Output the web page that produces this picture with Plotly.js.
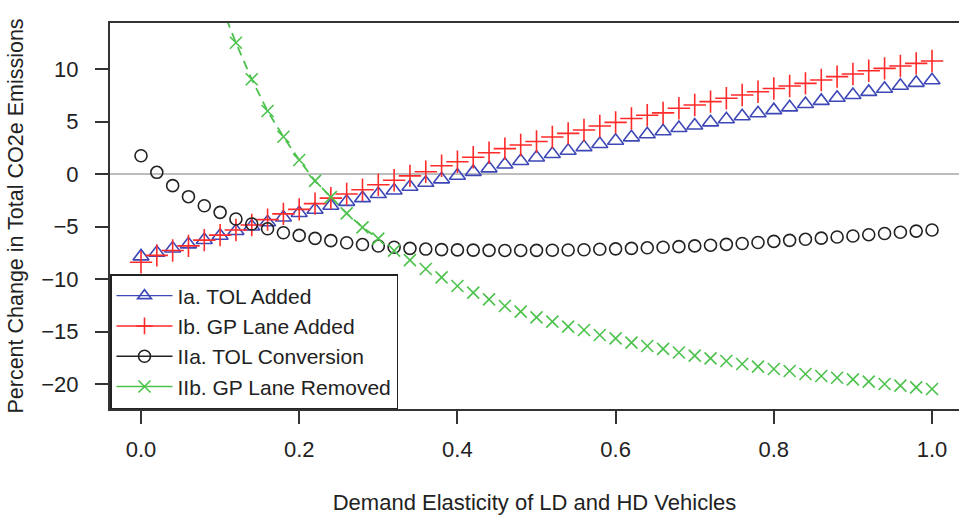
<!DOCTYPE html>
<html>
<head>
<meta charset="utf-8">
<script src="https://cdn.plot.ly/plotly-3.0.1.min.js"></script>
<style>html,body{margin:0;padding:0;background:#fff;}#chart{width:959px;height:515px;}</style>
</head>
<body>
<div id="chart"></div>
<script>
const elasticity = [0.00,0.02,0.04,0.06,0.08,0.10,0.12,0.14,0.16,0.18,0.20,0.22,0.24,0.26,0.28,0.30,0.32,0.34,0.36,0.38,0.40,0.42,0.44,0.46,0.48,0.50,0.52,0.54,0.56,0.58,0.60,0.62,0.64,0.66,0.68,0.70,0.72,0.74,0.76,0.78,0.80,0.82,0.84,0.86,0.88,0.90,0.92,0.94,0.96,0.98,1.00];

const tolAdded = [-7.85,-7.5,-7.1,-6.7,-6.29,-5.88,-5.43,-5.0,-4.6,-4.15,-3.72,-3.4,-3.03,-2.65,-2.3,-1.9,-1.57,-1.21,-0.83,-0.51,-0.16,0.2,0.54,0.9,1.24,1.57,1.9,2.22,2.56,2.86,3.17,3.49,3.78,4.07,4.38,4.62,4.92,5.21,5.5,5.78,6.08,6.35,6.67,6.96,7.26,7.52,7.82,8.12,8.41,8.68,8.93];

const gpLaneAdded = [-8.4,-7.75,-7.28,-6.85,-6.3,-5.82,-5.33,-4.86,-4.35,-3.8,-3.37,-2.82,-2.3,-1.9,-1.5,-1.02,-0.6,-0.18,0.22,0.79,1.17,1.6,2.03,2.42,2.76,3.1,3.52,3.87,4.19,4.57,4.92,5.28,5.6,5.82,6.26,6.57,6.89,7.21,7.52,7.84,8.14,8.38,8.63,8.95,9.27,9.52,9.84,10.06,10.29,10.54,10.76];

const tolConversion = [1.74,0.16,-1.11,-2.16,-3.02,-3.65,-4.29,-4.76,-5.22,-5.6,-5.85,-6.13,-6.35,-6.55,-6.72,-6.86,-6.98,-7.08,-7.15,-7.2,-7.23,-7.25,-7.27,-7.28,-7.28,-7.27,-7.26,-7.24,-7.21,-7.17,-7.13,-7.08,-7.03,-6.98,-6.92,-6.85,-6.78,-6.7,-6.62,-6.52,-6.42,-6.32,-6.22,-6.11,-6.0,-5.9,-5.78,-5.67,-5.55,-5.44,-5.33];

const gpLaneRemoved = [48,40,33,26.5,21,16.3,12.5,9.02,6.0,3.55,1.33,-0.65,-2.2,-3.75,-5.08,-6.16,-7.3,-8.2,-9.05,-9.85,-10.67,-11.3,-11.94,-12.57,-13.11,-13.65,-14.06,-14.54,-14.86,-15.33,-15.65,-16.06,-16.38,-16.65,-17.0,-17.3,-17.56,-17.81,-18.1,-18.35,-18.57,-18.76,-19.05,-19.24,-19.4,-19.56,-19.78,-20.0,-20.16,-20.32,-20.48];

const seriesNames = ['Ia. TOL Added','Ib. GP Lane Added','IIa. TOL Conversion','IIb. GP Lane Removed'];
const xTickVals = [0.0,0.2,0.4,0.6,0.8,1.0];
const xTickText = ['0.0','0.2','0.4','0.6','0.8','1.0'];
const yTickVals = [-20,-15,-10,-5,0,5,10];

const colBlue = '#3d47b5', colRed = '#ff2a2a', colBlack = '#222222', colGreen = '#4cc24c';

const styles = [
  {color: colBlue, symbol: 'triangle-up-open', size: 14, values: tolAdded},
  {color: colRed, symbol: 'cross-thin-open', size: 16, values: gpLaneAdded},
  {color: colBlack, symbol: 'circle-open', size: 12, values: tolConversion},
  {color: colGreen, symbol: 'x-thin-open', size: 12, values: gpLaneRemoved}
];

const traces = [];
// green dashed connecting line (type "b" style) for the steep part
traces.push({
  x: elasticity.slice(0,16), y: gpLaneRemoved.slice(0,16),
  mode: 'lines', showlegend: false, hoverinfo: 'skip',
  line: {color: colGreen, width: 1.8, dash: '9px,6px'}
});
styles.forEach((s, i) => {
  traces.push({
    x: elasticity, y: s.values, mode: 'markers', showlegend: false,
    marker: {symbol: s.symbol, size: s.size, color: s.color, line: {color: s.color, width: 1.6}}
  });
});
// legend entries (line + marker, as in the original key)
styles.forEach((s, i) => {
  traces.push({
    x: [null], y: [null], mode: 'lines+markers', name: seriesNames[i],
    line: {color: s.color, width: 1.4},
    marker: {symbol: s.symbol, size: Math.min(s.size, 12), color: s.color, line: {color: s.color, width: 1.6}}
  });
});

const font = {family: '"Liberation Sans", Arial, sans-serif', size: 22, color: '#222'};

const layout = {
  width: 959, height: 515,
  margin: {l: 110, r: 0, t: 23, b: 106},
  paper_bgcolor: '#fff', plot_bgcolor: '#fff',
  font: font,
  showlegend: true,
  legend: {
    x: 0, xanchor: 'left', y: 0, yanchor: 'bottom',
    bordercolor: '#222', borderwidth: 1.5, bgcolor: '#fff',
    font: {family: font.family, size: 21, color: '#222'},
    tracegroupgap: 0, itemwidth: 56
  },
  xaxis: {
    range: [-0.0392, 1.0341], tickvals: xTickVals, ticktext: xTickText,
    showgrid: false, zeroline: false,
    showline: true, mirror: true, linecolor: '#333', linewidth: 2,
    ticks: 'outside', ticklen: 13, tickwidth: 2, tickcolor: '#333',
    ticklabelstandoff: 7,
    tickfont: {family: font.family, size: 22, color: '#222'},
    title: {text: 'Demand Elasticity of LD and HD Vehicles', font: {family: font.family, size: 22, color: '#222'}, standoff: 36}
  },
  yaxis: {
    range: [-22.381, 14.381], tickvals: yTickVals,
    showgrid: false,
    zeroline: true, zerolinecolor: '#bdbdbd', zerolinewidth: 1.5,
    showline: true, linecolor: '#333', linewidth: 2,
    ticks: 'outside', ticklen: 13, tickwidth: 2, tickcolor: '#333',
    ticklabelstandoff: 12,
    tickfont: {family: font.family, size: 22, color: '#222'},
    title: {text: 'Percent Change in Total CO2e Emissions', font: {family: font.family, size: 21.5, color: '#222'}, standoff: 12}
  }
};

Plotly.newPlot('chart', traces, layout, {displayModeBar: false, staticPlot: true});
</script>
</body>
</html>
